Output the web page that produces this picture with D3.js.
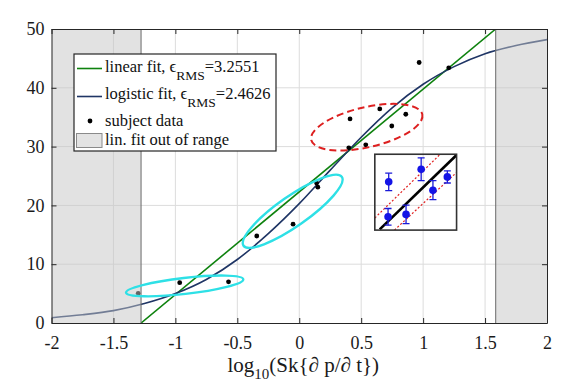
<!DOCTYPE html>
<html>
<head>
<meta charset="utf-8">
<script src="https://cdn.jsdelivr.net/npm/d3@7"></script>
<style>
  body { margin: 0; background: #fff; }
  text { font-family: "Liberation Serif", "DejaVu Serif", serif; }
</style>
</head>
<body>
<svg id="chart"></svg>
<script>
// subject data (black dots)
var dataX = [-1.30, -0.965, -0.571, -0.343, -0.05, 0.14, 0.15, 0.40, 0.537, 0.41, 0.65, 0.747, 0.86, 0.968, 1.207];
var dataY = [5.05, 6.85, 7.0, 14.8, 16.8, 23.8, 23.1, 29.8, 30.3, 34.7, 36.4, 33.5, 35.5, 44.3, 43.4];

// logistic fit
var fitX = [-2, -1.75, -1.5, -1.25, -1, -0.75, -0.5, -0.25, 0, 0.25, 0.5, 0.75, 1, 1.25, 1.5, 1.75, 2];
var fitY = [0.9, 1.4, 2.1, 3.3, 5.0, 7.4, 10.8, 15.2, 20.3, 26.0, 31.6, 36.6, 40.6, 43.6, 45.8, 47.2, 48.2];

// linear fit end points (0 .. 50)
var linX = [-1.277, 1.586];
var linY = [0, 50];

// out of range limits
var rangeLo = -1.277, rangeHi = 1.586;

var xTicks = [-2, -1.5, -1, -0.5, 0, 0.5, 1, 1.5, 2];
var yTicks = [0, 10, 20, 30, 40, 50];

// ellipses: centre in data units
var ellCx = [-0.925, -0.053, 0.545];
var ellCy = [6.3, 19.0, 33.3];

// inset: position in main data units, points in inset units
var insetBox = {x0: 0.61, x1: 1.27, y0: 15.8, y1: 28.7};
var insetX = [0.17, 0.567, 0.711, 0.887, 0.162, 0.382];
var insetY = [0.636, 0.803, 0.526, 0.701, 0.175, 0.207];
var insetErr = [0.115, 0.15, 0.125, 0.08, 0.11, 0.123];
var insetFit = [[0.06, 0.01], [1, 0.99]];
var insetUp = [[0, 0.16], [0.8, 1]];
var insetDn = [[0.24, 0], [1, 0.76]];

var width = 576, height = 384;
var padding = {left: 51.5, right: 29, top: 29, bottom: 61};
var serif = "'Liberation Serif', 'Times New Roman', serif";

var svg = d3.select("#chart")
  .attr("width", width)
  .attr("height", height);

var x = d3.scaleLinear().domain([-2, 2]).range([padding.left, width - padding.right]);
var y = d3.scaleLinear().domain([0, 50]).range([height - padding.bottom, padding.top]);

svg.append("defs").append("clipPath").attr("id", "plotClip")
  .append("rect")
  .attr("x", x(-2)).attr("y", y(50))
  .attr("width", x(2) - x(-2)).attr("height", y(0) - y(50));

//grid
var grid = svg.append("g").attr("stroke", "#dcdcdc").attr("stroke-width", 1);
grid.selectAll(".gx").data(xTicks.slice(1, -1)).enter().append("line")
  .attr("x1", d => x(d)).attr("x2", d => x(d))
  .attr("y1", y(0)).attr("y2", y(50));
grid.selectAll(".gy").data(yTicks.slice(1, -1)).enter().append("line")
  .attr("x1", x(-2)).attr("x2", x(2))
  .attr("y1", d => y(d)).attr("y2", d => y(d));

var plot = svg.append("g").attr("clip-path", "url(#plotClip)");

// linear fit
plot.append("line")
  .attr("x1", x(linX[0])).attr("y1", y(linY[0]))
  .attr("x2", x(linX[1])).attr("y2", y(linY[1]))
  .attr("stroke", "#0e820e").attr("stroke-width", 1.6);

// logistic fit
var line = d3.line().x(d => x(d[0])).y(d => y(d[1])).curve(d3.curveMonotoneX);
plot.append("path")
  .datum(fitX.map((v, i) => [v, fitY[i]]))
  .attr("d", line)
  .attr("fill", "none")
  .attr("stroke", "#1f3565").attr("stroke-width", 1.6);

// dots
plot.selectAll(".dot").data(dataX).enter().append("circle")
  .attr("cx", d => x(d))
  .attr("cy", (d, i) => y(dataY[i]))
  .attr("r", 2.4)
  .attr("fill", "#000");

// out of range shading
plot.append("rect")
  .attr("x", x(-2)).attr("y", y(50))
  .attr("width", x(rangeLo) - x(-2)).attr("height", y(0) - y(50))
  .attr("fill", "#c6c6c6").attr("fill-opacity", 0.5);
plot.append("rect")
  .attr("x", x(rangeHi)).attr("y", y(50))
  .attr("width", x(2) - x(rangeHi)).attr("height", y(0) - y(50))
  .attr("fill", "#c6c6c6").attr("fill-opacity", 0.5);
[rangeLo, rangeHi].forEach(function(v) {
  plot.append("line")
    .attr("x1", x(v)).attr("x2", x(v))
    .attr("y1", y(0)).attr("y2", y(50))
    .attr("stroke", "#6a6a6a").attr("stroke-width", 1);
});

// ellipses
var ellStyle = [
  {rx: 59, ry: 8, rot: -6.5, color: "#2ee0e6", dash: null, w: 2.4},
  {rx: 60, ry: 15, rot: -35, color: "#2ee0e6", dash: null, w: 2.4},
  {rx: 57, ry: 20, rot: -13, color: "#dd2020", dash: "7,4", w: 2}
];
plot.selectAll(".ell").data(ellCx).enter().append("ellipse")
  .attr("transform", (d, i) => "translate(" + x(d) + "," + y(ellCy[i]) + ") rotate(" + ellStyle[i].rot + ")")
  .attr("rx", (d, i) => ellStyle[i].rx)
  .attr("ry", (d, i) => ellStyle[i].ry)
  .attr("fill", "none")
  .attr("stroke", (d, i) => ellStyle[i].color)
  .attr("stroke-width", (d, i) => ellStyle[i].w)
  .attr("stroke-dasharray", (d, i) => ellStyle[i].dash);

// axes
var axisColor = "#262626";
var xAxis = svg.append("g")
  .attr("transform", "translate(0," + y(0) + ")")
  .call(d3.axisBottom(x).tickValues(xTicks).tickFormat(d3.format("")).tickSize(-5).tickSizeOuter(0).tickPadding(13));
var xTop = svg.append("g")
  .attr("transform", "translate(0," + y(50) + ")")
  .call(d3.axisTop(x).tickValues(xTicks).tickFormat("").tickSize(-5).tickSizeOuter(0));
var yAxis = svg.append("g")
  .attr("transform", "translate(" + x(-2) + ",0)")
  .call(d3.axisLeft(y).tickValues(yTicks).tickSize(-5).tickSizeOuter(0).tickPadding(7));
var yRight = svg.append("g")
  .attr("transform", "translate(" + x(2) + ",0)")
  .call(d3.axisRight(y).tickValues(yTicks).tickFormat("").tickSize(-5).tickSizeOuter(0));
[xAxis, xTop, yAxis, yRight].forEach(function(g) {
  g.attr("font-family", serif).attr("font-size", 18);
  g.selectAll("path, line").attr("stroke", axisColor);
  g.selectAll("text").attr("fill", "#1a1a1a")
    .style("font-family", serif).style("font-size", "18px");
});
xAxis.selectAll("text").text(d => d === 0 ? "0" : String(d));

// x label
var xl = svg.append("text")
  .attr("x", x(0) + 4).attr("y", 372)
  .attr("text-anchor", "middle")
  .style("font-family", serif)
  .style("font-size", "21px").attr("fill", "#1a1a1a");
xl.append("tspan").text("log");
xl.append("tspan").attr("dy", 7).style("font-size", "15px").text("10");
xl.append("tspan").attr("dy", -7).text("(Sk{\u2202 p/\u2202 t})");

// inset
var ib = {
  x0: x(insetBox.x0), x1: x(insetBox.x1),
  y0: y(insetBox.y0), y1: y(insetBox.y1)
};
var ix = d3.scaleLinear().domain([0, 1]).range([ib.x0, ib.x1]);
var iy = d3.scaleLinear().domain([0, 1]).range([ib.y0, ib.y1]);
svg.select("defs").append("clipPath").attr("id", "insetClip")
  .append("rect")
  .attr("x", ib.x0).attr("y", ib.y1)
  .attr("width", ib.x1 - ib.x0).attr("height", ib.y0 - ib.y1);
var inset = svg.append("g");
var insetIn = inset.append("g").attr("clip-path", "url(#insetClip)");
var iline = d3.line().x(d => ix(d[0])).y(d => iy(d[1]));
insetIn.append("path").datum(insetUp).attr("d", iline)
  .attr("stroke", "#e02020").attr("stroke-width", 1.2).attr("stroke-dasharray", "2,2").attr("fill", "none");
insetIn.append("path").datum(insetDn).attr("d", iline)
  .attr("stroke", "#e02020").attr("stroke-width", 1.2).attr("stroke-dasharray", "2,2").attr("fill", "none");
insetIn.append("path").datum(insetFit).attr("d", iline)
  .attr("stroke", "#000").attr("stroke-width", 2.6).attr("fill", "none");
var eb = insetIn.selectAll(".eb").data(insetX).enter().append("g")
  .attr("stroke", "#1a1ad8").attr("stroke-width", 1.3);
eb.append("line")
  .attr("x1", d => ix(d)).attr("x2", d => ix(d))
  .attr("y1", (d, i) => iy(insetY[i] - insetErr[i]))
  .attr("y2", (d, i) => iy(insetY[i] + insetErr[i]));
eb.append("line")
  .attr("x1", d => ix(d) - 3.5).attr("x2", d => ix(d) + 3.5)
  .attr("y1", (d, i) => iy(insetY[i] - insetErr[i]))
  .attr("y2", (d, i) => iy(insetY[i] - insetErr[i]));
eb.append("line")
  .attr("x1", d => ix(d) - 3.5).attr("x2", d => ix(d) + 3.5)
  .attr("y1", (d, i) => iy(insetY[i] + insetErr[i]))
  .attr("y2", (d, i) => iy(insetY[i] + insetErr[i]));
insetIn.selectAll(".ip").data(insetX).enter().append("circle")
  .attr("cx", d => ix(d))
  .attr("cy", (d, i) => iy(insetY[i]))
  .attr("r", 3.8)
  .attr("fill", "#1414e6");
inset.append("rect")
  .attr("x", ib.x0).attr("y", ib.y1)
  .attr("width", ib.x1 - ib.x0).attr("height", ib.y0 - ib.y1)
  .attr("fill", "none").attr("stroke", "#333").attr("stroke-width", 1.6);

// legend
var lg = svg.append("g").attr("transform", "translate(74,54)");
lg.append("rect")
  .attr("width", 202).attr("height", 97)
  .attr("fill", "#fff").attr("stroke", "#262626").attr("stroke-width", 1.2);
lg.append("line").attr("x1", 3).attr("x2", 28).attr("y1", 14.5).attr("y2", 14.5)
  .attr("stroke", "#0e820e").attr("stroke-width", 1.6);
lg.append("line").attr("x1", 3).attr("x2", 28).attr("y1", 42.5).attr("y2", 42.5)
  .attr("stroke", "#1f3565").attr("stroke-width", 1.6);
lg.append("circle").attr("cx", 16).attr("cy", 67).attr("r", 2.4).attr("fill", "#000");
lg.append("rect").attr("x", 2.5).attr("y", 79.5).attr("width", 25.5).attr("height", 14)
  .attr("fill", "#e3e3e3").attr("stroke", "#8a8a8a").attr("stroke-width", 1);

var legendNames = ["linear fit, \u03f5", "logistic fit, \u03f5", "subject data", "lin. fit out of range"];
var legendVals = ["=3.2551", "=2.4626", "", ""];
var legendBase = [18, 45, 72, 91];
legendNames.forEach(function(name, i) {
  var t = lg.append("text").attr("x", 31).attr("y", legendBase[i])
    .style("font-family", serif)
    .style("font-size", "16.5px").attr("fill", "#111");
  t.append("tspan").text(name);
  if (legendVals[i]) {
    t.append("tspan").attr("dy", 7.5).style("font-size", "13.5px").text("RMS");
    t.append("tspan").attr("dy", -7.5).text(legendVals[i]);
  }
});
</script>
</body>
</html>
